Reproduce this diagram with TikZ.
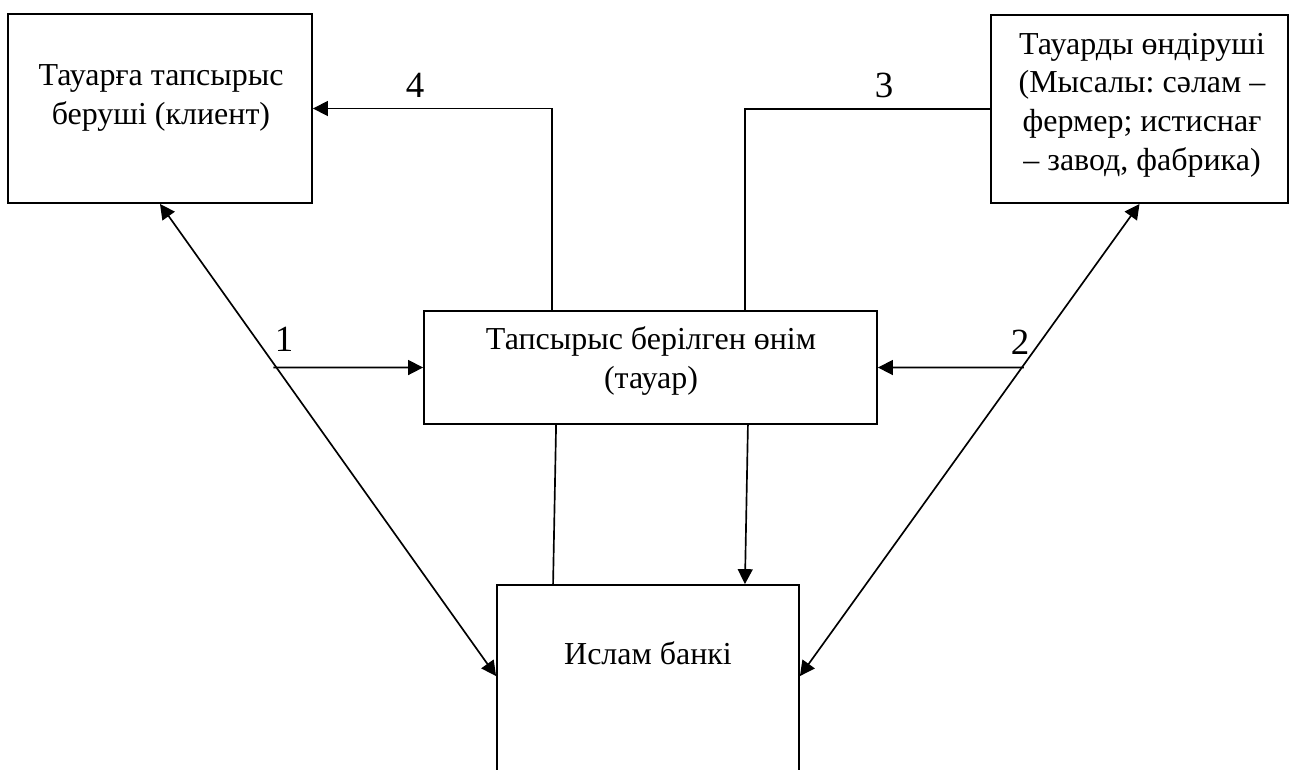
\documentclass[tikz,border=0pt]{standalone}
\usepackage{fontspec}
\setmainfont{Liberation Serif}
\frenchspacing
\usetikzlibrary{arrows.meta,calc,intersections}

\tikzset{
  blocco/.style={draw,line width=1.1pt,inner sep=0pt},
  testo/.style={align=center,inner sep=0pt,font=\fontsize{18.2}{22}\selectfont},
  numero/.style={inner sep=0pt,font=\fontsize{21}{25}\selectfont},
  linea/.style={line width=0.95pt},
  freccia/.style={linea,-{Triangle[length=8.5pt,width=8.5pt]}},
  doppia/.style={linea,{Triangle[length=8.5pt,width=8.5pt]}-{Triangle[length=8.5pt,width=8.5pt]}}
}

\begin{document}
\begin{tikzpicture}[x=0.02cm,y=-0.02cm]
\useasboundingbox (0,0) rectangle (1290,769);

% blocchi
\node[blocco,minimum width=6.08cm,minimum height=3.78cm] (client) at (160,108.5) {};
\node[testo] (clienttxt) at (161,98) {Тауарға тапсырыс\\беруші (клиент)};

\node[blocco,minimum width=5.94cm,minimum height=3.76cm] (maker) at (1139.5,109) {};
\node[testo] (makertxt) at (1142,105) {Тауарды өндіруші\\(Мысалы: сәлам –\\фермер; истиснағ\\– завод, фабрика)};

\node[blocco,minimum width=9.06cm,minimum height=2.26cm] (product) at (650.5,367.5) {};
\node[testo] (producttxt) at (651,361) {Тапсырыс берілген өнім\\(тауар)};

\node[blocco,minimum width=6.04cm,minimum height=5cm] (bank) at (648,710) {};
\node[testo] (banktxt) at (648,653) {Ислам банкі};

\coordinate (bw) at ($(bank.north west)+(0,92)$);
\coordinate (be) at ($(bank.north east)+(0,92)$);

% diagonali
\draw[doppia,name path=diag1] (client.south) -- (bw);
\draw[doppia,name path=diag2] (maker.south) -- (be);

\path[name path=oriz1] (product.west) -- ++(-300,0);
\path[name path=oriz2] (product.east) -- ++(300,0);
\path[name intersections={of=diag1 and oriz1,by=p1}];
\path[name intersections={of=diag2 and oriz2,by=p2}];

\draw[freccia] ($(p1)+(-3,0)$) -- (product.west);
\draw[freccia] ($(p2)+(2,0)$) -- (product.east);

\draw[freccia] ($(product.north west)+(129,0)$) |- (client.east);
\draw[linea] ($(product.north east)+(-133,0)$) |- (maker.west);

\draw[linea] ($(product.south west)+(133,0)$) -- ($(bank.north west)+(57,0)$);
\draw[freccia] ($(product.south east)+(-130,0)$) -- ($(bank.north east)+(-55,0)$);

% numeri
\node[numero] (n1) at (284,339) {1};
\node[numero] (n2) at (1020,342) {2};
\node[numero] (n3) at (884,85) {3};
\node[numero] (n4) at (415,85) {4};

\end{tikzpicture}
\end{document}
